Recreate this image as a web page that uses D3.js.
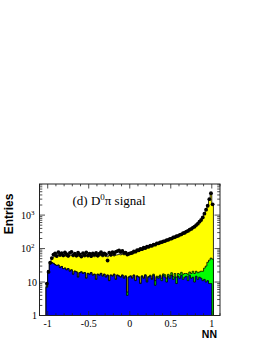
<!DOCTYPE html>
<html>
<head>
<meta charset="utf-8">
<script src="https://cdn.jsdelivr.net/npm/d3@7"></script>
<style>
  body { margin: 0; background: #fff; }
  svg { display: block; }
</style>
</head>
<body>
<div id="chart"></div>
<script>
// histogram bins: 102 bins of 0.02 from -1.02 to 1.02
const binEdges = d3.range(103).map(i => -1.02 + 0.02 * i);

// data points (black markers)
const dataNN = [
  9, 20, 38, 52, 66, 72, 60, 78, 66, 73,
  63, 77, 68, 61, 74, 80, 64, 71, 62, 75,
  67, 58, 73, 64, 77, 63, 70, 60, 72, 66,
  74, 62, 70, 78, 65, 72, 67, 44, 75, 66,
  78, 69, 80, 84, 88, 79, 85, 74, 76, 66,
  70, 73, 75, 82, 81, 90, 89, 97, 96, 106,
  104, 114, 113, 122, 121, 132, 131, 142, 143, 152,
  155, 165, 167, 180, 183, 196, 199, 214, 219, 234,
  241, 258, 267, 288, 297, 323, 337, 368, 387, 424,
  452, 505, 555, 635, 715, 850, 1100, 1450, 1900, 3000,
  4500, 2100
];

// total MC (yellow top)
const mcTotal = [
  8, 21, 40, 48, 56, 60, 57, 62, 58, 61,
  57, 62, 58, 56, 61, 63, 57, 61, 56, 60,
  58, 55, 60, 56, 61, 56, 59, 55, 60, 57,
  61, 56, 60, 62, 57, 61, 58, 57, 62, 59,
  63, 60, 64, 65, 68, 65, 69, 65, 68, 64,
  66, 68, 70, 73, 76, 80, 84, 88, 92, 96,
  100, 105, 110, 114, 119, 124, 129, 135, 140, 146,
  152, 158, 165, 172, 180, 188, 197, 206, 216, 227,
  238, 250, 264, 279, 295, 313, 333, 356, 382, 410,
  445, 488, 545, 615, 705, 825, 1050, 1350, 1800, 2800,
  4300, 2050
];

// green background component (stacked on blue)
const bkgGreen = [
  0.3, 0.3, 0.3, 0.3, 0.3, 0.3, 0.3, 0.3, 0.3, 0.3,
  0.3, 0.3, 0.3, 0.3, 0.3, 0.3, 0.3, 0.3, 0.3, 0.3,
  0.3, 0.3, 0.3, 0.3, 0.3, 0.3, 0.3, 0.3, 0.3, 0.3,
  0.3, 0.3, 0.3, 0.3, 0.3, 0.3, 0.3, 0.3, 0.3, 0.3,
  0.3, 0.3, 0.3, 0.3, 0.3, 0.3, 0.3, 0.3, 0.3, 1,
  0.3, 0.3, 0.3, 0.3, 0.3, 0.3, 0.3, 0.3, 0.3, 0.3,
  0.5, 0.8, 0.6, 1, 0.7, 1.2, 3, 1, 1.5, 1.2,
  2, 1.5, 2.5, 3, 2, 2.5, 3, 2.5, 4, 5,
  3, 4, 3.5, 5, 4, 3, 6, 4, 5, 7,
  8, 6, 7, 6, 8, 10, 14, 20, 28, 36,
  43, 48
];

// blue background component
const bkgBlue = [
  7, 22, 34, 38, 36, 33, 31, 32, 27, 29,
  25, 26, 23, 25, 21, 23, 17, 21, 20, 14,
  19, 20, 18, 19, 13, 18, 17, 19, 16, 17,
  12, 17, 16, 18, 15, 17, 14, 16, 11, 16,
  15, 17, 12, 16, 15, 14, 16, 13, 15, 4,
  14, 15, 13, 16, 11, 15, 14, 9, 15, 13,
  16, 10, 14, 15, 12, 16, 8, 14, 13, 15,
  11, 16, 14, 10, 15, 13, 16, 12, 14, 9,
  15, 13, 16, 12, 14, 15, 11, 16, 13, 14,
  10, 15, 12, 14, 13, 11, 12, 10, 11, 9,
  9, 0.5
];

const xTicks = [-1, -0.5, 0, 0.5, 1];
const xTickLabels = ['-1', '-0.5', '0', '0.5', '1'];
const yTicks = [1, 10, 100, 1000];
const yTickLabels = [['1', ''], ['10', ''], ['10', '2'], ['10', '3']];

const W = 265, H = 343;
const plot = {left: 39.5, right: 220, top: 184, bottom: 315.5};

const svg = d3.select('#chart').append('svg')
  .attr('width', W).attr('height', H)
  .attr('viewBox', `0,0,${W},${H}`);

const x = d3.scaleLinear().domain([-1.1, 1.1]).range([plot.left, plot.right]);
const y = d3.scaleLog().domain([1, 8500]).range([plot.bottom, plot.top]).clamp(true);

svg.append('clipPath').attr('id', 'clip')
  .append('rect')
  .attr('x', plot.left).attr('y', plot.top)
  .attr('width', plot.right - plot.left).attr('height', plot.bottom - plot.top);

const stepPts = vals => {
  const pts = [];
  vals.forEach((v, i) => {
    pts.push([binEdges[i], v]);
    pts.push([binEdges[i + 1], v]);
  });
  return pts;
};

const area = d3.area()
  .x(d => x(d[0]))
  .y0(y(1))
  .y1(d => y(Math.max(d[1], 0.5)));

const greenTop = bkgBlue.map((b, i) => b + bkgGreen[i]);

const g = svg.append('g').attr('clip-path', 'url(#clip)');

[[mcTotal, '#ffff00'], [greenTop, '#00ff00'], [bkgBlue, '#0000ff']].forEach(([vals, col]) => {
  g.append('path')
    .attr('d', area(stepPts(vals)))
    .attr('fill', col)
    .attr('stroke', '#000')
    .attr('stroke-width', 0.8)
    .attr('stroke-linejoin', 'miter');
});

// data markers
g.append('g').selectAll('circle')
  .data(dataNN)
  .join('circle')
  .attr('cx', (d, i) => x((binEdges[i] + binEdges[i + 1]) / 2))
  .attr('cy', d => y(d))
  .attr('r', 1.9)
  .attr('fill', '#000');

// frame
svg.append('rect')
  .attr('x', plot.left).attr('y', plot.top)
  .attr('width', plot.right - plot.left).attr('height', plot.bottom - plot.top)
  .attr('fill', 'none').attr('stroke', '#222').attr('stroke-width', 1);

// ticks (inside, mirrored)
const ticks = svg.append('g').attr('stroke', '#222').attr('stroke-width', 0.8);
const xMinor = d3.range(-11, 12).map(k => k / 10);
xMinor.forEach(v => {
  const major = xTicks.some(t => Math.abs(t - v) < 1e-9);
  const len = major ? 4.5 : 2.3;
  ticks.append('line').attr('x1', x(v)).attr('x2', x(v))
    .attr('y1', plot.bottom).attr('y2', plot.bottom - len);
  ticks.append('line').attr('x1', x(v)).attr('x2', x(v))
    .attr('y1', plot.top).attr('y2', plot.top + len);
});
yTicks.forEach(t => {
  for (let m = 1; m <= 9; m++) {
    const v = t * m;
    if (v > y.domain()[1]) break;
    const len = m === 1 ? 5.5 : 2.8;
    ticks.append('line').attr('x1', plot.left).attr('x2', plot.left + len)
      .attr('y1', y(v)).attr('y2', y(v));
    ticks.append('line').attr('x1', plot.right).attr('x2', plot.right - len)
      .attr('y1', y(v)).attr('y2', y(v));
  }
});

// tick labels
const serif = '"Liberation Serif", "DejaVu Serif", serif';
svg.append('g').selectAll('text')
  .data(xTicks)
  .join('text')
  .attr('x', d => x(d))
  .attr('y', 327)
  .attr('text-anchor', 'middle')
  .attr('font-family', serif)
  .attr('font-size', 10)
  .text((d, i) => xTickLabels[i]);

const yl = svg.append('g');
yTicks.forEach((t, i) => {
  const [base, sup] = yTickLabels[i];
  const txt = yl.append('text')
    .attr('x', sup ? 34.5 : 37)
    .attr('y', y(t) + 3.5)
    .attr('text-anchor', 'end')
    .attr('font-family', serif)
    .attr('font-size', 10);
  txt.append('tspan').text(base);
  if (sup) txt.append('tspan').attr('dy', -4).attr('font-size', 7).text(sup);
});

// axis titles
const sansBold = '"Liberation Sans", Arial, sans-serif';
svg.append('text')
  .attr('transform', `translate(12.5,${plot.top + 30}) rotate(-90)`)
  .attr('text-anchor', 'middle')
  .attr('font-family', sansBold).attr('font-weight', 'bold').attr('font-size', 12)
  .text('Entries');
svg.append('text')
  .attr('x', 217).attr('y', 337.5)
  .attr('text-anchor', 'end')
  .attr('font-family', sansBold).attr('font-weight', 'bold').attr('font-size', 10.5)
  .text('NN');

// panel label
const lab = svg.append('text')
  .attr('x', 72.5).attr('y', 204.5)
  .attr('font-family', serif).attr('font-size', 13);
lab.append('tspan').text('(d) D');
lab.append('tspan').attr('dy', -5).attr('font-size', 9).text('0');
lab.append('tspan').attr('dy', 5).text('π signal');
</script>
</body>
</html>
